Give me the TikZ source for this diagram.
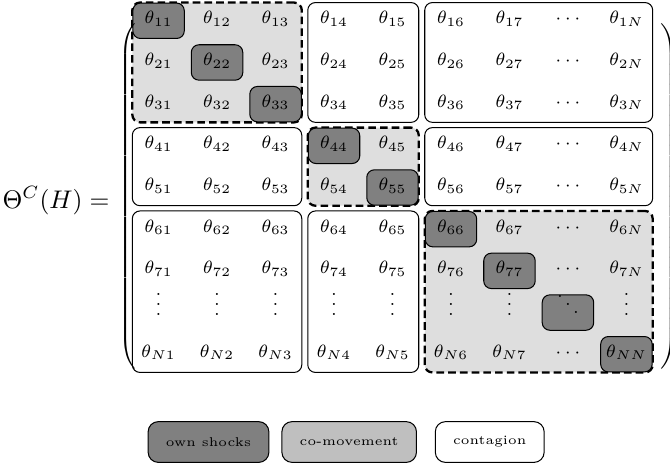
\documentclass[tikz,border=0pt]{standalone}
\usepackage{amsmath,amssymb}
\usepackage{xcolor}
\usepackage{tikz}
\usetikzlibrary{matrix, fit, backgrounds, positioning}
\definecolor{owngray}{RGB}{128,128,128}
\definecolor{comovegray}{RGB}{191,191,191}
\definecolor{blockgray}{RGB}{222,222,222}

\begin{document}
\begin{tikzpicture}[x=0.3925pt, y=-0.3925pt,
    cell/.style={inner sep=0pt, minimum width=20.2pt, minimum height=13.9pt, text height=4pt, text depth=1.6pt, font=\scriptsize},
    own/.style={draw, fill=owngray, rounded corners=3pt},
    block/.style={draw, rounded corners=3pt, inner sep=0pt},
    coblock/.style={block, fill=blockgray, line width=0.9pt, dash pattern=on 3pt off 1.6pt},
    legendbox/.style={draw, rounded corners=4pt, font=\tiny, minimum height=16pt, inner xsep=7pt},
    every delimiter/.style={font=\scriptsize, yscale=0.95, transform shape},
    every left delimiter/.style={xshift=3pt},
    every right delimiter/.style={xshift=1.8pt}]

    \useasboundingbox (0,0) rectangle (670,464);

    % the matrix of spillover weights
    \matrix (m) [matrix of math nodes, nodes={cell}, column sep=2.355pt, row sep=2.06pt,
        inner sep=0pt, left delimiter=(, right delimiter=)] at (392.5,187.5) {
        |[own]|\theta_{11} & \theta_{12} & \theta_{13} & \theta_{14} & \theta_{15} & \theta_{16} & \theta_{17} & \cdots & \theta_{1N} \\
        \theta_{21} & |[own]|\theta_{22} & \theta_{23} & \theta_{24} & \theta_{25} & \theta_{26} & \theta_{27} & \cdots & \theta_{2N} \\
        \theta_{31} & \theta_{32} & |[own]|\theta_{33} & \theta_{34} & \theta_{35} & \theta_{36} & \theta_{37} & \cdots & \theta_{3N} \\
        \theta_{41} & \theta_{42} & \theta_{43} & |[own]|\theta_{44} & \theta_{45} & \theta_{46} & \theta_{47} & \cdots & \theta_{4N} \\
        \theta_{51} & \theta_{52} & \theta_{53} & \theta_{54} & |[own]|\theta_{55} & \theta_{56} & \theta_{57} & \cdots & \theta_{5N} \\
        \theta_{61} & \theta_{62} & \theta_{63} & \theta_{64} & \theta_{65} & |[own]|\theta_{66} & \theta_{67} & \cdots & \theta_{6N} \\
        \theta_{71} & \theta_{72} & \theta_{73} & \theta_{74} & \theta_{75} & \theta_{76} & |[own]|\theta_{77} & \cdots & \theta_{7N} \\
        \vdots & \vdots & \vdots & \vdots & \vdots & \vdots & \vdots & |[own]|\ddots & \vdots \\
        \theta_{N1} & \theta_{N2} & \theta_{N3} & \theta_{N4} & \theta_{N5} & \theta_{N6} & \theta_{N7} & \cdots & |[own]|\theta_{NN} \\
    };

    \node[anchor=base east, inner sep=0pt] (lhs) at (110,208) {$\Theta^C(H) =$};

    % blocks behind the entries
    \begin{scope}[on background layer]
        \node[coblock, fit=(m-1-1)(m-3-3)] (b11) {};
        \node[block, fit=(m-1-4)(m-3-5)] (b12) {};
        \node[block, fit=(m-1-6)(m-3-9)] (b13) {};
        \node[block, fit=(m-4-1)(m-5-3)] (b21) {};
        \node[coblock, fit=(m-4-4)(m-5-5)] (b22) {};
        \node[block, fit=(m-4-6)(m-5-9)] (b23) {};
        \node[block, fit=(m-6-1)(m-9-3)] (b31) {};
        \node[block, fit=(m-6-4)(m-9-5)] (b32) {};
        \node[coblock, fit=(m-6-6)(m-9-9)] (b33) {};
    \end{scope}

    % legend
    \node[legendbox, fill=owngray] (lgown) at (208.5,442) {own shocks};
    \node[legendbox, fill=comovegray, right=4.7pt of lgown] (lgcomove) {co-movement};
    \node[legendbox, right=7pt of lgcomove] (lgcontagion) {contagion};
\end{tikzpicture}
\end{document}
